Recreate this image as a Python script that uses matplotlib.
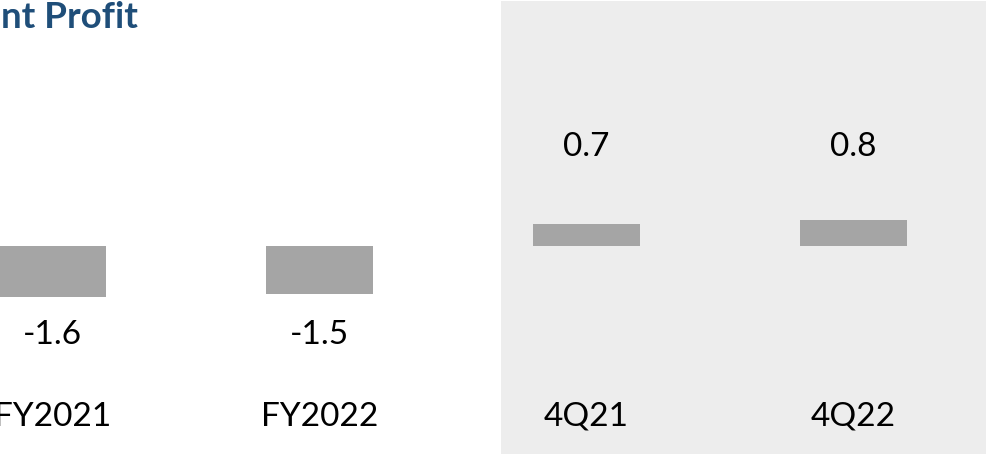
import matplotlib
matplotlib.use("Agg")
import matplotlib.pyplot as plt
import numpy as np

plt.rcParams.update({
    "font.family": ["Lato", "DejaVu Sans"],
})

# data
categories = ["FY2021", "FY2022", "4Q21", "4Q22"]
values = [-1.6, -1.5, 0.7, 0.8]
value_labels = ["-1.6", "-1.5", "0.7", "0.8"]
title = "nt Profit"

BAR_COLOR = "#A5A5A5"
PANEL_COLOR = "#EDEDED"
TITLE_COLOR = "#1F4E79"

fig = plt.figure(figsize=(9.87, 4.56), dpi=100)
ax = fig.add_axes([0, 0, 1, 1])

x = np.arange(len(categories))

# grey panel behind the quarterly bars
ax.axvspan(1.68, 4.0, ymin=0.002, ymax=0.996, color=PANEL_COLOR, zorder=0, lw=0)

ax.bar(x, values, width=0.40, color=BAR_COLOR, zorder=2)

# value labels: above for positives, below for negatives
for xi, v, lab in zip(x, values, value_labels):
    y = 2.84 if v > 0 else -3.03
    ax.text(xi, y, lab, ha="center", va="baseline", fontsize=24, color="black")

# category labels (first one runs off the left edge, as in the source)
for xi, cat in zip(x, categories):
    ax.text(xi, -5.59, cat, ha="center", va="baseline", fontsize=24, color="black")

ax.set_xlim(-0.197, 3.50)
ax.set_ylim(-6.53, 7.72)
ax.axis("off")

fig.text(0.001, 1 - 28 / 456, title, ha="left", va="baseline",
         fontsize=26.5, fontweight="bold", color=TITLE_COLOR)

fig.savefig("out.png", dpi=100)
